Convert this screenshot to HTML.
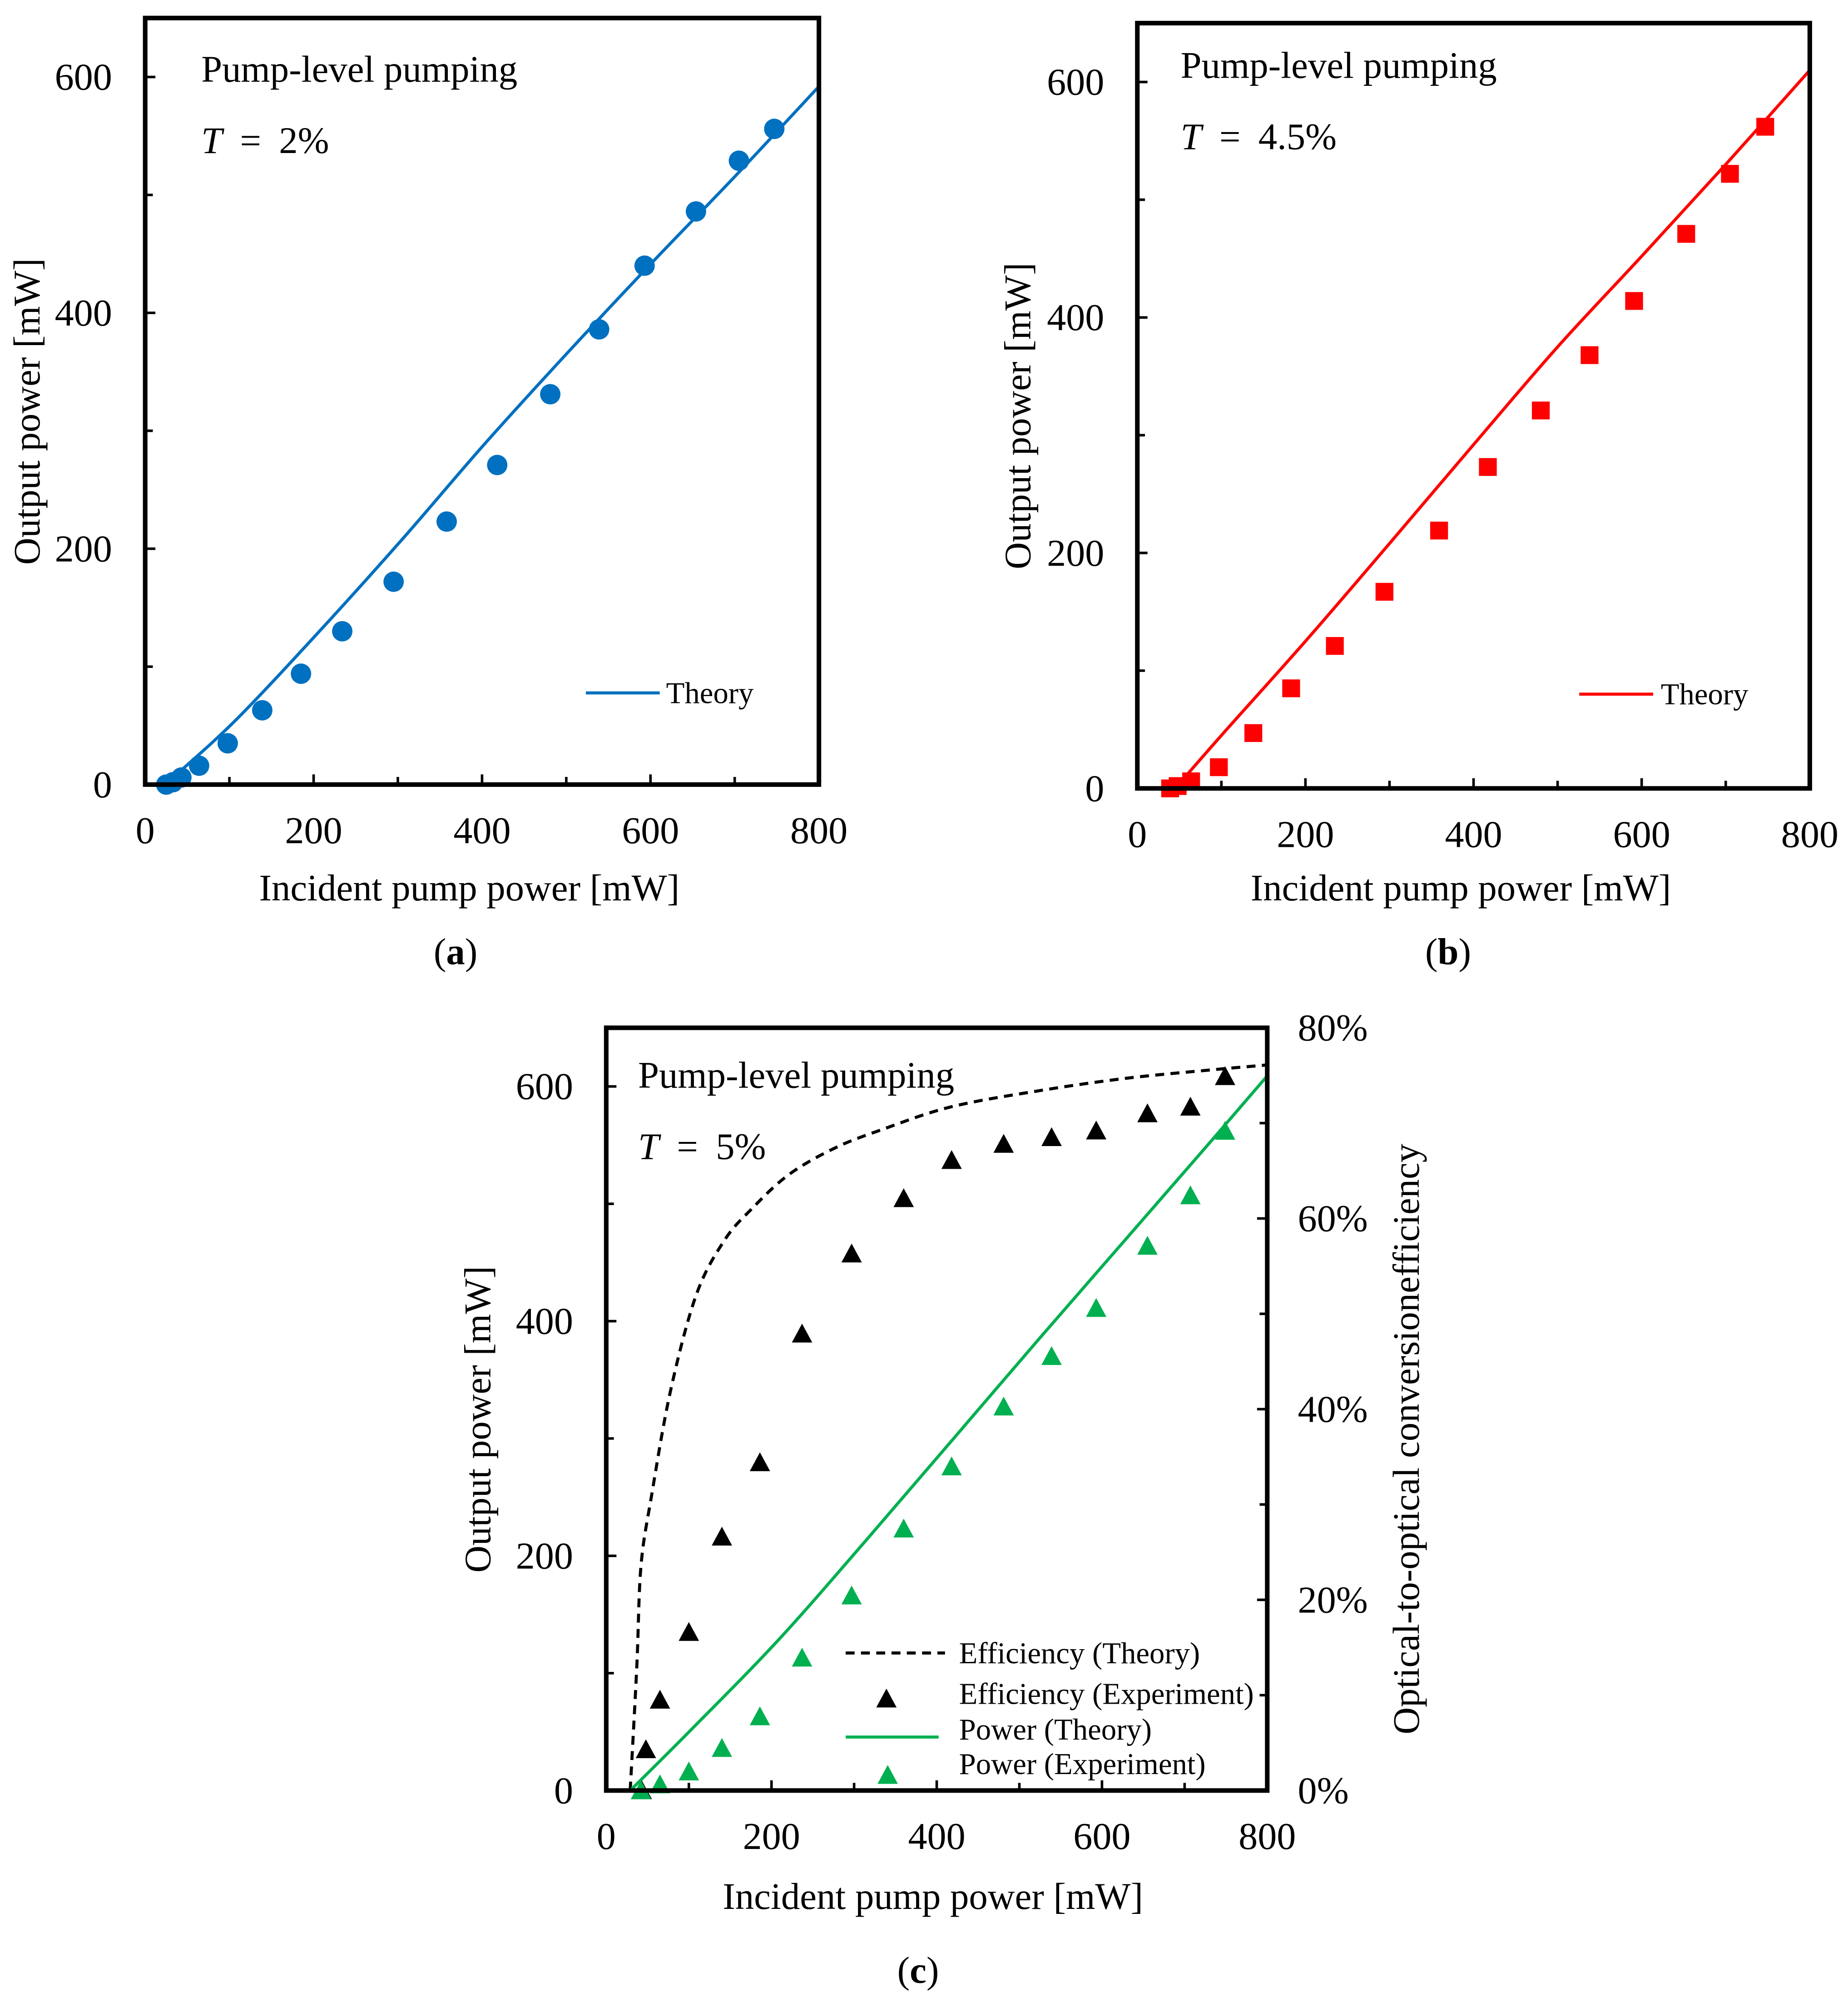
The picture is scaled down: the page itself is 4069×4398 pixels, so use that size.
<!DOCTYPE html>
<html><head><meta charset="utf-8"><style>
html,body{margin:0;padding:0;background:#fff;}
svg{display:block;}
svg text{font-family:"Liberation Serif","DejaVu Serif",serif;}
</style></head><body>
<svg id="fig" width="4069" height="4398" viewBox="0 0 1451 1568" font-family="Liberation Serif, serif" xmlns="http://www.w3.org/2000/svg"></svg>
<script>
// ---- Panel (a) data ----
const aExpX = [25, 33, 43, 64, 98, 139, 185, 234, 295, 358, 418, 481, 539, 593, 654, 705, 747];
const aExpY = [0, 2, 6, 16, 35, 63, 94, 130, 172, 223, 271, 331, 386, 440, 486, 529, 556];
const aThX = [25, 38, 108, 203, 304, 402, 500, 601, 702, 800];
const aThY = [0, 9, 55, 127, 207, 288, 365, 442, 517, 592];
// ---- Panel (b) data ----
const bExpX = [39, 48, 64, 97, 138, 183, 235, 294, 359, 417, 480, 538, 591, 653, 705, 747];
const bExpY = [0, 2, 6, 18, 47, 85, 121, 167, 219, 273, 321, 368, 414, 471, 522, 562];
const bThX = [45, 100, 200, 300, 400, 500, 600, 700, 800];
const bThY = [0, 45, 125, 208, 292, 375, 452, 530, 610];
// ---- Panel (c) data ----
const cPowX = [42, 65, 100, 140, 186, 237, 297, 360, 418, 481, 539, 593, 655, 707, 749];
const cPowY = [0, 5, 16, 36, 63, 113, 166, 223, 276, 327, 370, 411, 464, 507, 562];
const cEffX = [43, 48, 65, 100, 140, 186, 237, 297, 360, 418, 481, 539, 593, 655, 707, 749];
const cEffY = [0, 4.3, 9.5, 16.6, 26.6, 34.4, 47.9, 56.3, 62.1, 66.1, 67.8, 68.5, 69.2, 71, 71.7, 74.9];
const cEffThX = [29, 37, 42, 55, 78, 109, 143, 176, 221, 277, 333, 417, 524, 629, 734, 800];
const cEffThY = [0, 13, 23.5, 31, 42, 52, 57.7, 61, 64.6, 67.4, 69.3, 71.7, 73.4, 74.7, 75.6, 76.1];
const cPowThX = [29, 103, 208, 313, 418, 524, 629, 734, 800];
const cPowThY = [0, 52, 128, 212, 298, 385, 470, 555, 609];
const xTicks = [0, 200, 400, 600, 800];
const yTicks = [0, 200, 400, 600];
const rTicks = [0, 20, 40, 60, 80];
const rTickLabels = ["0%", "20%", "40%", "60%", "80%"];

const NS = "http://www.w3.org/2000/svg";
const svg = document.getElementById('fig');
function mk(tag, attrs, parent, text) {
  const e = document.createElementNS(NS, tag);
  for (const k in attrs) e.setAttribute(k, attrs[k]);
  if (text !== undefined) e.textContent = text;
  (parent || svg).appendChild(e);
  return e;
}
const TF = 30, AF = 29.5, LF = 23.8, NF = 29.5;

function panel(id, L, R, T, B, ymax) {
  const g = mk('g', {});
  
  
  const sx = v => L + (R - L) * v / 800;
  const sy = v => B - (B - T) * v / ymax;
  for (let v = 100; v < 800; v += 100) {
    const len = v % 200 === 0 ? 8 : 6;
    const t = mk('line', {x1: sx(v), x2: sx(v), y1: B, y2: B - len, stroke: '#000', 'stroke-width': 2}, g);
    
    
  }
  for (let v = 100; v < ymax; v += 100) {
    const len = v % 200 === 0 ? 8 : 6;
    const t = mk('line', {x1: L, x2: L + len, y1: sy(v), y2: sy(v), stroke: '#000', 'stroke-width': 2}, g);
    
    
  }
  xTicks.forEach(v => {
    const t = mk('text', {x: sx(v), y: B + 46, 'font-size': TF, 'text-anchor': 'middle'}, g, String(v));
    
    
  });
  yTicks.forEach(v => {
    const t = mk('text', {x: L - 26, y: sy(v) + 10, 'font-size': TF, 'text-anchor': 'end'}, g, String(v));
    
    
  });
  return {g, sx, sy};
}
function frame(g, L, R, T, B) {
  const f = mk('rect', {x: L, y: T, width: R - L, height: B - T, fill: 'none', stroke: '#000', 'stroke-width': 3.6}, g);
  
  
}
function path(g, xs, ys, sx, sy, attrs, name) {
  const P = xs.map((x, i) => [sx(x), sy(ys[i])]);
  let d = 'M' + P[0][0].toFixed(2) + ' ' + P[0][1].toFixed(2);
  for (let i = 0; i < P.length - 1; i++) {
    const p0 = P[Math.max(0, i - 1)], p1 = P[i], p2 = P[i + 1], p3 = P[Math.min(P.length - 1, i + 2)];
    const c1x = p1[0] + (p2[0] - p0[0]) / 6, c1y = p1[1] + (p2[1] - p0[1]) / 6;
    const c2x = p2[0] - (p3[0] - p1[0]) / 6, c2y = p2[1] - (p3[1] - p1[1]) / 6;
    d += ` C${c1x.toFixed(2)} ${c1y.toFixed(2)} ${c2x.toFixed(2)} ${c2y.toFixed(2)} ${p2[0].toFixed(2)} ${p2[1].toFixed(2)}`;
  }
  const p = mk('path', Object.assign({d, fill: 'none'}, attrs), g);
  
  
}
function tri(g, cx, cy, color, name) {
  const s = 8;
  const p = mk('polygon', {points: `${cx},${cy - s} ${cx - s},${cy + s * 0.85} ${cx + s},${cy + s * 0.85}`, fill: color}, g);
  
  
}
function labels(g, cx, T, B, xl, xtY, tx, ty, Tval, plabel, plY) {
  const ya = mk('text', {x: 0, y: 0, 'font-size': AF, 'text-anchor': 'middle', transform: `translate(${xl},${(T + B) / 2 + 8}) rotate(-90)`}, g, 'Output power [mW]');
  
  
  const xa = mk('text', {x: cx, y: xtY, 'font-size': AF, 'text-anchor': 'middle'}, g, 'Incident pump power [mW]');
  
  
  const t1 = mk('text', {x: tx, y: ty, 'font-size': NF}, g, 'Pump-level pumping');
  
  
  const t2 = mk('text', {x: tx, y: ty + 56, 'font-size': NF}, g);
  
  
  mk('tspan', {'font-style': 'italic'}, t2, 'T');
  mk('tspan', {dx: 14}, t2, '=');
  mk('tspan', {dx: 14}, t2, Tval);
  const pl = mk('text', {x: cx - 28, y: plY, 'font-size': AF}, g);
  
  
  mk('tspan', {}, pl, '(');
  mk('tspan', {'font-weight': 'bold'}, pl, plabel);
  mk('tspan', {}, pl, ')');
}

// Panel (a)
(function () {
  const L = 114, R = 643, T = 14, B = 616;
  const {g, sx, sy} = panel('a', L, R, T, B, 650);
  const blue = '#0070C0';
  path(g, aThX, aThY, sx, sy, {stroke: blue, 'stroke-width': 2.4}, 'theory-line');
  aExpX.forEach((x, i) => {
    const c = mk('circle', {cx: sx(x), cy: sy(aExpY[i]), r: 8, fill: blue}, g);
    
    
  });
  frame(g, L, R, T, B);
  const ll = mk('line', {x1: 460, x2: 518, y1: 544, y2: 544, stroke: blue, 'stroke-width': 2.4}, g);
  
  
  const lt = mk('text', {x: 523, y: 552, 'font-size': LF}, g, 'Theory');
  
  
  labels(g, (L + R) / 2 - 10, T, B, 31, 707, 158, 64, '2%', 'a', 757);
})();

// Panel (b)
(function () {
  const L = 893, R = 1421, T = 18, B = 619;
  const {g, sx, sy} = panel('b', L, R, T, B, 650);
  const red = '#FF0000';
  path(g, bThX, bThY, sx, sy, {stroke: red, 'stroke-width': 2.4}, 'theory-line');
  bExpX.forEach((x, i) => {
    const s = 14;
    const r = mk('rect', {x: sx(x) - s / 2, y: sy(bExpY[i]) - s / 2, width: s, height: s, fill: red}, g);
    
    
  });
  frame(g, L, R, T, B);
  const ll = mk('line', {x1: 1240, x2: 1298, y1: 545, y2: 545, stroke: red, 'stroke-width': 2.4}, g);
  
  
  const lt = mk('text', {x: 1304, y: 553, 'font-size': LF}, g, 'Theory');
  
  
  labels(g, (L + R) / 2 - 10, T, B, 809, 707, 927, 61, '4.5%', 'b', 757);
})();

// Panel (c)
(function () {
  const L = 476, R = 995, T = 807, B = 1406;
  const {g, sx, sy} = panel('c', L, R, T, B, 650);
  const sr = v => B - (B - T) * v / 80;
  const green = '#00B050';
  for (let v = 10; v < 80; v += 10) {
    const len = v % 20 === 0 ? 8 : 6;
    const t = mk('line', {x1: R, x2: R - len, y1: sr(v), y2: sr(v), stroke: '#000', 'stroke-width': 2}, g);
    
    
  }
  rTicks.forEach((v, i) => {
    const t = mk('text', {x: 1019, y: sr(v) + 10, 'font-size': TF}, g, rTickLabels[i]);
    
    
  });
  path(g, cEffThX, cEffThY, sx, sr, {stroke: '#000', 'stroke-width': 2.4, 'stroke-dasharray': '7,5'}, 'efficiency-theory-line');
  path(g, cPowThX, cPowThY, sx, sy, {stroke: green, 'stroke-width': 2.4}, 'power-theory-line');
  cEffX.forEach((x, i) => tri(g, sx(x), sr(cEffY[i]), '#000', 'efficiency-experiment-point'));
  cPowX.forEach((x, i) => tri(g, sx(x), sy(cPowY[i]), green, 'power-experiment-point'));
  frame(g, L, R, T, B);
  const ra = mk('text', {x: 0, y: 0, 'font-size': AF, 'text-anchor': 'middle', transform: `translate(1114,1130) rotate(-90)`}, g, 'Optical-to-optical conversionefficiency');
  
  
  const l1 = mk('line', {x1: 664, x2: 742, y1: 1298, y2: 1298, stroke: '#000', 'stroke-width': 2.4, 'stroke-dasharray': '7,5'}, g);
  
  
  tri(g, 696, 1334, '#000', 'legend-marker-efficiency-experiment');
  const l3 = mk('line', {x1: 664, x2: 737, y1: 1364, y2: 1364, stroke: green, 'stroke-width': 2.4}, g);
  
  
  tri(g, 697, 1394, green, 'legend-marker-power-experiment');
  [['Efficiency (Theory)', 1306], ['Efficiency (Experiment)', 1338], ['Power (Theory)', 1366], ['Power (Experiment)', 1393]].forEach(([s, y]) => {
    const t = mk('text', {x: 753, y, 'font-size': LF}, g, s);
    
    
  });
  labels(g, (L + R) / 2 - 3, T, B, 385, 1499, 501, 854, '5%', 'c', 1557);
})();
</script>
</body></html>
